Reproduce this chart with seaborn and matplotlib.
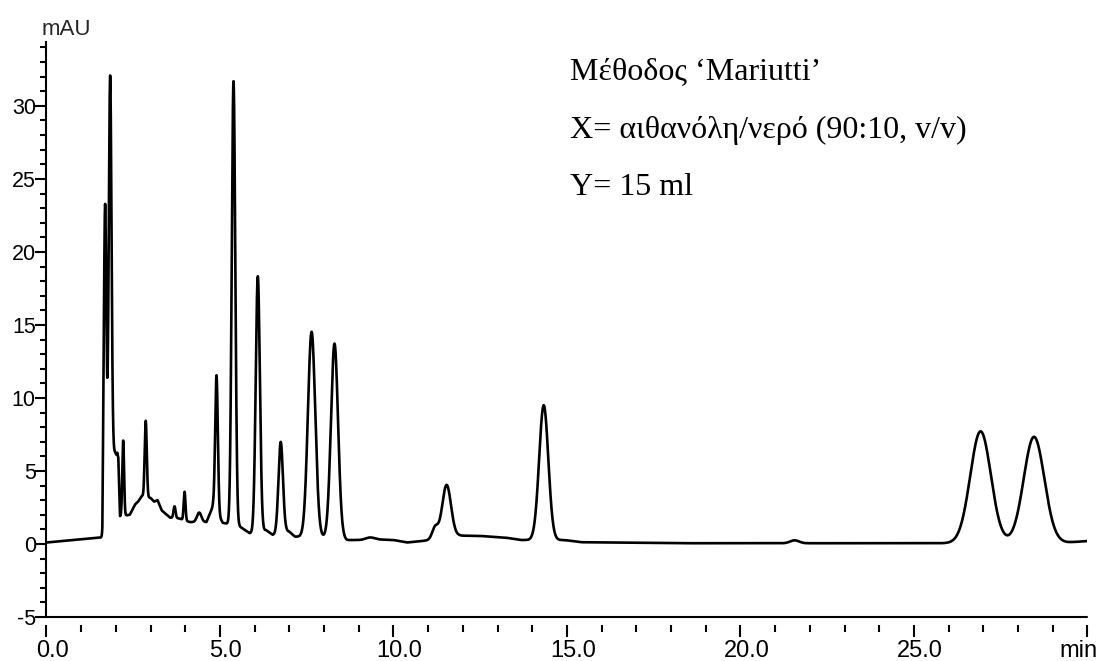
import numpy as np
import pandas as pd
import matplotlib
matplotlib.use("Agg")
import matplotlib.pyplot as plt
import seaborn as sns
from matplotlib.ticker import MultipleLocator
from matplotlib.transforms import ScaledTranslation

# Peak table: retention time (min), apex height above
# the local baseline (mAU) and full width at half maximum (min)
retention_min = [1.69, 1.835, 2.21, 2.86, 3.69, 3.98, 4.40, 4.90, 5.39, 6.09,
                 6.75, 7.64, 8.30, 9.33, 11.20, 11.53, 14.33, 21.56, 26.92, 28.46]
peak_height_mau = [16.8, 25.7, 5.15, 5.2, 0.8, 1.95, 0.65, 9.35, 30.4, 17.5,
                   6.2, 14.05, 13.3, 0.16, 0.8, 3.6, 9.23, 0.2, 7.65, 7.25]
peak_fwhm_min = [0.075, 0.09, 0.06, 0.07, 0.07, 0.06, 0.15, 0.09, 0.12, 0.14,
                 0.15, 0.25, 0.24, 0.30, 0.20, 0.30, 0.31, 0.30, 0.70, 0.70]

# Baseline / solvent-front level between the peaks
baseline_time = [0.0, 1.61, 1.64, 1.97, 2.02, 2.04, 2.07, 2.12, 2.40, 2.55,
                 2.64, 2.75, 3.00, 3.10, 3.20, 3.32, 3.56, 3.82, 4.13, 4.61,
                 4.80, 4.95, 5.08, 5.56, 5.72, 5.86, 6.25, 6.33, 6.52, 6.90,
                 7.00, 7.16, 7.35, 7.96, 8.55, 8.65, 9.00, 9.62, 10.00, 10.39,
                 10.83, 11.89, 12.50, 13.24, 13.67, 14.83, 15.00, 15.40, 18.30,
                 24.60, 26.00, 29.40, 30.00]
baseline_mau = [0.10, 0.45, 6.5, 6.3, 6.1, 6.25, 5.9, 1.9, 2.0, 2.7,
                2.9, 3.3, 3.15, 2.9, 3.0, 2.3, 1.8, 1.75, 1.5, 1.5,
                2.6, 2.0, 1.45, 1.2, 0.96, 0.73, 0.9, 0.95, 0.62, 0.9,
                0.84, 0.5, 0.5, 0.46, 0.39, 0.27, 0.27, 0.3, 0.27, 0.1,
                0.2, 0.57, 0.55, 0.43, 0.27, 0.27, 0.25, 0.12, 0.05,
                0.05, 0.05, 0.10, 0.20]

x_major_ticks = [0, 5, 10, 15, 20, 25, 30]
x_tick_labels = ["0.0", "5.0", "10.0", "15.0", "20.0", "25.0", "min"]
y_major_ticks = [-5, 0, 5, 10, 15, 20, 25, 30]
y_tick_labels = ["-5", "0", "5", "10", "15", "20", "25", "30"]

annotation_lines = ["Μέθοδος ‘Mariutti’",
                    "X= αιθανόλη/νερό (90:10, v/v)",
                    "Y= 15 ml"]

# Detector signal: baseline plus Gaussian peak profiles
t = np.linspace(0, 30, 30001)
signal = np.interp(t, baseline_time, baseline_mau)
for rt, h, w in zip(retention_min, peak_height_mau, peak_fwhm_min):
    sigma = w / 2.3548
    signal = signal + h * np.exp(-0.5 * ((t - rt) / sigma) ** 2)
trace = pd.DataFrame({"time": t, "mAU": signal})

sns.set_style("ticks")
plt.rcParams["font.family"] = ["Liberation Sans", "DejaVu Sans"]
plt.rcParams["axes.unicode_minus"] = False

fig = plt.figure(figsize=(10.99, 6.61), dpi=100)
ax = fig.add_axes([0.0423, 0.0666, 0.9472, 0.8704])

sns.lineplot(data=trace, x="time", y="mAU", ax=ax, color="black",
             linewidth=1.9, estimator=None, sort=False)

ax.set_xlim(0, 30)
ax.set_ylim(-5, 34.4)
ax.set_xlabel("")
ax.set_ylabel("")

for side in ("top", "right"):
    ax.spines[side].set_visible(False)
ax.spines["left"].set_linewidth(1.5)
ax.spines["left"].set_color("black")
# ticks hang a little below the time axis line
ax.spines["bottom"].set_position(("outward", 6))
ax.spines["bottom"].set_visible(False)
ax.axhline(-5, color="black", linewidth=1.5, clip_on=False, zorder=3)

ax.set_xticks(x_major_ticks)
ax.set_xticklabels(x_tick_labels, fontsize=17)
ax.xaxis.set_minor_locator(MultipleLocator(1))
ax.set_yticks(y_major_ticks)
ax.set_yticklabels(y_tick_labels, fontsize=15.5)
ax.yaxis.set_minor_locator(MultipleLocator(1))

ax.tick_params(axis="x", which="major", direction="out", length=8.5, width=1.5,
               color="black", pad=2, labelcolor="black")
ax.tick_params(axis="x", which="minor", direction="out", length=5, width=1.5,
               color="black")
ax.tick_params(axis="y", which="major", direction="out", length=7.7, width=1.5,
               color="black", pad=0, labelcolor="black")
ax.tick_params(axis="y", which="minor", direction="out", length=4.1, width=1.5,
               color="black")

xlabels = ax.get_xticklabels()
for lab in xlabels[:-1]:
    lab.set_transform(lab.get_transform() +
                      ScaledTranslation(6 / 100, 0, fig.dpi_scale_trans))
xlabels[-1].set_horizontalalignment("right")
xlabels[-1].set_transform(xlabels[-1].get_transform() +
                          ScaledTranslation(10 / 100, 0, fig.dpi_scale_trans))

fig.text(42 / 1099, 1 - 35 / 661, "mAU", fontsize=16, ha="left", va="baseline")

for line, y_px in zip(annotation_lines, [79, 138, 195]):
    fig.text(570 / 1099, 1 - y_px / 661, line, fontsize=23,
             family=["Liberation Serif", "DejaVu Serif"],
             ha="left", va="baseline", color="black")

fig.savefig("out.png", dpi=100)
